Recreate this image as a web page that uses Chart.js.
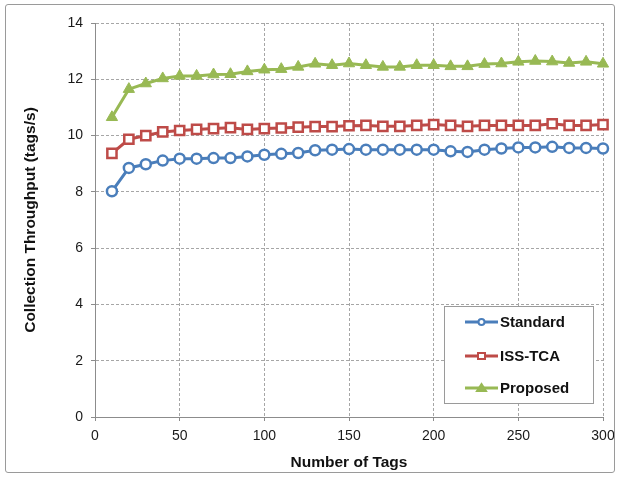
<!DOCTYPE html>
<html>
<head>
<meta charset="utf-8">
<script src="https://cdn.jsdelivr.net/npm/chart.js@4.4.1/dist/chart.umd.min.js"></script>
<style>
  body { margin: 0; background: #fff; }
  #wrap { position: relative; width: 619px; height: 477px; }
  #frame {
    position: absolute; left: 5px; top: 4px; width: 608px; height: 467px;
    border: 1px solid #9a9a9a; border-radius: 3px; pointer-events: none;
  }
</style>
</head>
<body>
<div id="wrap">
  <canvas id="chart" width="619" height="477"></canvas>
  <div id="frame"></div>
</div>
<script>
// number of tags on the x axis
const tagCounts = [10, 20, 30, 40, 50, 60, 70, 80, 90, 100,
                   110, 120, 130, 140, 150, 160, 170, 180, 190, 200,
                   210, 220, 230, 240, 250, 260, 270, 280, 290, 300];

// collection throughput (tags/s)
const standard = [8.02, 8.85, 8.98, 9.11, 9.18, 9.18, 9.20, 9.20, 9.26, 9.32,
                  9.35, 9.38, 9.48, 9.50, 9.52, 9.50, 9.50, 9.50, 9.50, 9.50,
                  9.44, 9.42, 9.50, 9.54, 9.58, 9.58, 9.60, 9.56, 9.56, 9.54];
const issTca   = [9.37, 9.87, 10.00, 10.13, 10.18, 10.22, 10.25, 10.28, 10.22, 10.25,
                  10.27, 10.30, 10.32, 10.32, 10.35, 10.36, 10.33, 10.33, 10.36, 10.39,
                  10.36, 10.33, 10.36, 10.36, 10.36, 10.36, 10.42, 10.36, 10.36, 10.39];
const proposed = [10.65, 11.65, 11.85, 12.03, 12.12, 12.12, 12.17, 12.18, 12.28, 12.34,
                  12.36, 12.44, 12.55, 12.50, 12.56, 12.50, 12.44, 12.44, 12.50, 12.50,
                  12.46, 12.46, 12.54, 12.56, 12.62, 12.65, 12.63, 12.58, 12.62, 12.55];

const seriesNames = ["Standard", "ISS-TCA", "Proposed"];
const xTicks = [0, 50, 100, 150, 200, 250, 300];
const yTicks = [0, 2, 4, 6, 8, 10, 12, 14];

const BLUE = "#4A7EBB", RED = "#BE4B48", GREEN = "#98B954";
const FONT = "'Liberation Sans', Arial, sans-serif";

function toPoints(values)
{
  return values.map((v, i) => ({ x: tagCounts[i], y: v }));
}

// draws one legend marker by hand (small version of the chart markers)
function drawMarker(ctx, style, x, y, color)
{
  ctx.save();
  ctx.lineWidth = 2;
  ctx.strokeStyle = color;
  ctx.fillStyle = "#fff";
  ctx.beginPath();
  if (style == "circle")
    ctx.arc(x, y, 3, 0, Math.PI * 2);
  else if (style == "rect")
    ctx.rect(x - 3.5, y - 3, 7, 6);
  else
  {
    ctx.fillStyle = color;
    ctx.moveTo(x, y - 4);
    ctx.lineTo(x + 4.5, y + 3);
    ctx.lineTo(x - 4.5, y + 3);
    ctx.closePath();
  }
  ctx.fill();
  ctx.stroke();
  ctx.restore();
}

// legend box sitting in the lower right of the plot area
const boxLegend = {
  id: "boxLegend",
  afterDraw(chart)
  {
    const ctx = chart.ctx;
    const area = chart.chartArea;
    const w = 149, h = 97;
    const left = area.right - 10 - w;
    const top = area.bottom - 14 - h;

    ctx.save();
    ctx.fillStyle = "#fff";
    ctx.fillRect(left, top, w, h);
    ctx.strokeStyle = "#9a9a9a";
    ctx.lineWidth = 1;
    ctx.strokeRect(left + 0.5, top + 0.5, w, h);

    const rows = [16, 50, 82];
    const styles = ["circle", "rect", "triangle"];
    const colors = [BLUE, RED, GREEN];
    ctx.font = "bold 15px " + FONT;
    ctx.textBaseline = "middle";
    for (let it = 0; it < seriesNames.length; it++)
    {
      let y = top + rows[it];
      ctx.strokeStyle = colors[it];
      ctx.lineWidth = 3;
      ctx.beginPath();
      ctx.moveTo(left + 21, y);
      ctx.lineTo(left + 54, y);
      ctx.stroke();
      drawMarker(ctx, styles[it], left + 37.5, y, colors[it]);
      ctx.fillStyle = "#111";
      ctx.fillText(seriesNames[it], left + 56, y + 1);
    }
    ctx.restore();
  }
};

const gridStyle = {
  color: "#a6a6a6",
  lineWidth: 1,
  tickLength: 4,
  tickColor: "#8c8c8c"
};

new Chart(document.getElementById("chart"), {
  type: "line",
  data: {
    datasets: [
      {
        label: seriesNames[0],
        data: toPoints(standard),
        borderColor: BLUE,
        backgroundColor: "#fff",
        borderWidth: 3,
        pointStyle: "circle",
        pointRadius: 5,
        pointBorderWidth: 2.5,
        pointBackgroundColor: "#fff",
        pointBorderColor: BLUE,
        clip: false
      },
      {
        label: seriesNames[1],
        data: toPoints(issTca),
        borderColor: RED,
        backgroundColor: "#fff",
        borderWidth: 3,
        pointStyle: "rect",
        pointRadius: 6.5,
        pointBorderWidth: 2.5,
        pointBackgroundColor: "#fff",
        pointBorderColor: RED,
        clip: false
      },
      {
        label: seriesNames[2],
        data: toPoints(proposed),
        borderColor: GREEN,
        backgroundColor: GREEN,
        borderWidth: 3,
        pointStyle: "triangle",
        pointRadius: 6.5,
        pointBorderWidth: 1,
        pointBackgroundColor: GREEN,
        pointBorderColor: GREEN,
        clip: false
      }
    ]
  },
  options: {
    responsive: false,
    animation: false,
    events: [],
    layout: { padding: { left: 0, top: 23, right: 16, bottom: 0 } },
    plugins: {
      legend: { display: false },
      tooltip: { enabled: false }
    },
    scales: {
      x: {
        type: "linear",
        min: 0,
        max: 300,
        // fixed height, and let the last label overhang the plot edge
        afterFit: (scale) => { scale.height = 60; scale.paddingRight = 0; },
        afterBuildTicks: (scale) => { scale.ticks = xTicks.map(v => ({ value: v })); },
        grid: gridStyle,
        border: { display: true, color: "#8c8c8c", width: 1, dash: [3, 2] },
        ticks: {
          color: "#1a1a1a",
          padding: 7,
          maxRotation: 0,
          font: { family: FONT, size: 14 }
        },
        title: {
          display: true,
          text: "Number of Tags",
          color: "#111",
          padding: { top: 0, bottom: 5 },
          font: { family: FONT, size: 15.5, weight: "bold" }
        }
      },
      y: {
        min: 0,
        max: 14,
        afterFit: (scale) => { scale.width = 95; },
        afterBuildTicks: (scale) => { scale.ticks = yTicks.map(v => ({ value: v })); },
        grid: gridStyle,
        border: { display: true, color: "#8c8c8c", width: 1, dash: [3, 2] },
        ticks: {
          color: "#1a1a1a",
          padding: 8,
          font: { family: FONT, size: 14 }
        },
        title: {
          display: true,
          text: "Collection Throughput (tags/s)",
          color: "#111",
          padding: { top: 21, bottom: 0 },
          font: { family: FONT, size: 15.5, weight: "bold" }
        }
      }
    }
  },
  plugins: [boxLegend]
});
</script>
</body>
</html>
